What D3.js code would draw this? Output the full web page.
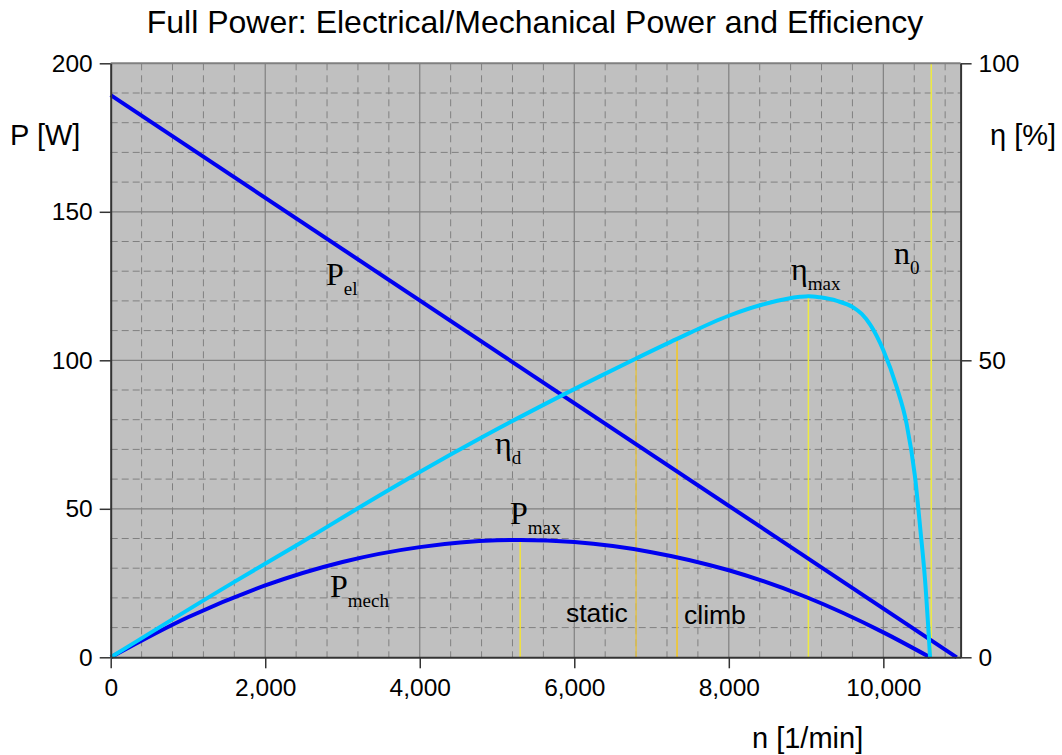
<!DOCTYPE html>
<html><head><meta charset="utf-8">
<script src="https://cdn.jsdelivr.net/npm/d3@7"></script>
<style>html,body{margin:0;padding:0;background:#fff}svg{display:block}</style>
</head><body>
<svg id="chart" width="1062" height="755"></svg>
<script>
// ---- data ----
const xTicks = [0, 2000, 4000, 6000, 8000, 10000];
const yLeftTicks = [0, 50, 100, 150, 200];
const yRightTicks = [0, 50, 100];

const pelN = [0, 10950];
const pelW = [189.3, 0];

const pmechN = [0, 1000, 2000, 3000, 4000, 5000, 5300, 6000, 7000, 8000, 9000, 10000, 10605];
const pmechW = [0, 13.5, 24.2, 32.1, 37.1, 39.4, 39.5, 38.8, 35.4, 29.3, 20.3, 8.4, 0];

const etaN = [0, 1600, 2450, 3200, 4000, 4800, 5600, 6330, 6800, 7330, 8000, 8500, 8920, 9030, 9180, 9400, 9610, 9720, 9830, 10000, 10170, 10300, 10410, 10480, 10540, 10605];
const etaPct = [0, 12.7, 19.2, 25.1, 31.2, 37.0, 42.5, 47.3, 50.3, 53.6, 57.5, 59.6, 60.7, 60.8, 60.6, 60.0, 58.9, 57.8, 56.0, 51.7, 45.6, 39.4, 30.4, 21.4, 13.0, 0];

const markerNames = ["Pmax", "static", "climb", "etaMax", "n0"];
const markerN = [5300, 6800, 7330, 9030, 10620];
const markerTopPct = [19.75, 50.3, 53.6, 60.8, 100];
const markerColors = ["#f2e23a", "#e2c24a", "#f6c81e", "#eeea40", "#eeea40"];

// ---- layout ----
const svg = d3.select("#chart");
const L = 110.7, R = 960.6, T = 63.3, B = 657.3;
const x = d3.scaleLinear().domain([0, 11000]).range([L, R]);
const yP = d3.scaleLinear().domain([0, 200]).range([B, T]);
const yE = d3.scaleLinear().domain([0, 100]).range([B, T]);

svg.append("rect").attr("x", L).attr("y", T).attr("width", R - L).attr("height", B - T).attr("fill", "#c0c0c0");

// minor grid (dashed)
const g = svg.append("g");
d3.range(400, 11000, 400).filter(v => v % 2000 !== 0).forEach(v => {
  g.append("line").attr("x1", x(v)).attr("x2", x(v)).attr("y1", T).attr("y2", B)
    .attr("stroke", "#808080").attr("stroke-width", 1).attr("stroke-dasharray", "7,5");
});
d3.range(10, 200, 10).filter(v => v % 50 !== 0).forEach(v => {
  g.append("line").attr("x1", L).attr("x2", R).attr("y1", yP(v)).attr("y2", yP(v))
    .attr("stroke", "#808080").attr("stroke-width", 1).attr("stroke-dasharray", "7,4");
});
// major grid
xTicks.filter(v => v > 0).forEach(v => {
  g.append("line").attr("x1", x(v)).attr("x2", x(v)).attr("y1", T).attr("y2", B)
    .attr("stroke", "#808080").attr("stroke-width", 1.2);
});
yLeftTicks.filter(v => v > 0 && v < 200).forEach(v => {
  g.append("line").attr("x1", L).attr("x2", R).attr("y1", yP(v)).attr("y2", yP(v))
    .attr("stroke", "#808080").attr("stroke-width", 1.2);
});

// marker lines
markerN.forEach((n, i) => {
  svg.append("line").attr("x1", x(n)).attr("x2", x(n)).attr("y1", yE(markerTopPct[i])).attr("y2", B)
    .attr("stroke", markerColors[i]).attr("stroke-width", 1.5);
});

// curves
const lineP = d3.line().x(d => x(d[0])).y(d => yP(d[1])).curve(d3.curveMonotoneX);
const lineE = d3.line().x(d => x(d[0])).y(d => yE(d[1])).curve(d3.curveMonotoneX);
svg.append("path").attr("d", lineP(pmechN.map((n, i) => [n, pmechW[i]])))
  .attr("fill", "none").attr("stroke", "#0000f0").attr("stroke-width", 4);
svg.append("path").attr("d", lineP(pelN.map((n, i) => [n, pelW[i]])))
  .attr("fill", "none").attr("stroke", "#0000f0").attr("stroke-width", 4);
svg.append("path").attr("d", lineE(etaN.map((n, i) => [n, etaPct[i]])))
  .attr("fill", "none").attr("stroke", "#00ccff").attr("stroke-width", 4);

// axes
const axisColor = "#333";
svg.append("line").attr("x1", L).attr("x2", R).attr("y1", T).attr("y2", T).attr("stroke", "#808080").attr("stroke-width", 2);
const axB = svg.append("g").attr("transform", `translate(0,${B})`)
  .call(d3.axisBottom(x).tickValues(xTicks).tickSize(11).tickPadding(10).tickFormat(d3.format(",")).tickSizeOuter(0));
const axL = svg.append("g").attr("transform", `translate(${L},0)`)
  .call(d3.axisLeft(yP).tickValues(yLeftTicks).tickSize(11).tickPadding(7).tickSizeOuter(0));
const axR = svg.append("g").attr("transform", `translate(${R},0)`)
  .call(d3.axisRight(yE).tickValues(yRightTicks).tickSize(11).tickPadding(7).tickSizeOuter(0));
[axB, axL, axR].forEach(a => {
  a.select(".domain").attr("stroke", axisColor).attr("stroke-width", 2);
  a.selectAll(".tick line").attr("stroke", axisColor).attr("stroke-width", 1.5);
  a.selectAll(".tick text").attr("font-family", "Liberation Sans, Arial, sans-serif").attr("font-size", 24.5).attr("fill", "#000");
});

// titles
const sans = "Liberation Sans, Arial, sans-serif";
svg.append("text").attr("x", 535).attr("y", 33).attr("text-anchor", "middle")
  .attr("font-family", sans).attr("font-size", 32).text("Full Power: Electrical/Mechanical Power and Efficiency");
svg.append("text").attr("x", 10).attr("y", 145).attr("font-family", sans).attr("font-size", 29).text("P [W]");
svg.append("text").attr("x", 990).attr("y", 145).attr("font-family", sans).attr("font-size", 29).text("η [%]");
svg.append("text").attr("x", 752).attr("y", 748).attr("font-family", sans).attr("font-size", 29).text("n [1/min]");
svg.append("text").attr("x", 566).attr("y", 622).attr("font-family", sans).attr("font-size", 26.5).text("static");
svg.append("text").attr("x", 684).attr("y", 624).attr("font-family", sans).attr("font-size", 26.5).text("climb");

// curve labels (serif with subscript)
const serif = "Liberation Serif, Times New Roman, serif";
const labels = [
  {main: "P", sub: "el", x: 326, y: 285},
  {main: "η", sub: "d", x: 495, y: 454},
  {main: "P", sub: "mech", x: 330, y: 597},
  {main: "P", sub: "max", x: 510, y: 524},
  {main: "η", sub: "max", x: 791, y: 280},
  {main: "n", sub: "0", x: 894, y: 264}
];
labels.forEach(l => {
  const t = svg.append("text").attr("x", l.x).attr("y", l.y).attr("font-family", serif).attr("font-size", 32).attr("fill", "#000");
  t.append("tspan").text(l.main);
  t.append("tspan").attr("dy", 10).attr("font-size", 19).text(l.sub);
});
</script>
</body></html>
